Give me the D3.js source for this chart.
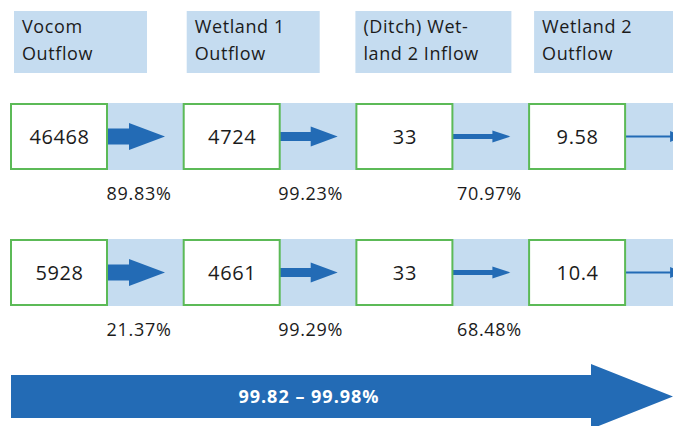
<!DOCTYPE html>
<html>
<head>
<meta charset="utf-8">
<script src="https://cdn.jsdelivr.net/npm/d3@7"></script>
<style>
  body { margin: 0; background: #fff; }
  text { font-family: "Open Sans", sans-serif; fill: #1b1b1b; }
</style>
</head>
<body>
<div id="chart"></div>
<script>
"use strict"

// stages across the top
const stages = ["Vocom Outflow", "Wetland 1 Outflow", "(Ditch) Wetland 2 Inflow", "Wetland 2 Outflow"];
const stageLines = [["Vocom", "Outflow"], ["Wetland 1", "Outflow"], ["(Ditch) Wet-", "land 2 Inflow"], ["Wetland 2", "Outflow"]];

// two sampling rows: concentrations and removal between stages
const rowNames = ["row1", "row2"];
const row1Values = [46468, 4724, 33, 9.58];
const row2Values = [5928, 4661, 33, 10.4];
const row1Removal = [89.83, 99.23, 70.97];
const row2Removal = [21.37, 99.29, 68.48];

// overall removal range
const overallRange = [99.82, 99.98];

const rows = [
  {name: rowNames[0], values: row1Values, removal: row1Removal},
  {name: rowNames[1], values: row2Values, removal: row2Removal}
];

const W = 673, H = 426;
const boxW = 97, boxH = 65, bandH = 67;
const blue = "#236bb5", light = "#c5dcf0", green = "#5cba57";

const svg = d3.select("#chart").append("svg")
  .attr("width", W).attr("height", H);

const x = d3.scaleLinear().domain([0, stages.length]).range([10, 10 + 172.7 * stages.length]);
const y = d3.scalePoint().domain(rowNames).range([136.5, 272.5]);

// arrow styling per stage (decreasing flow arrows)
const shaft = d3.scaleOrdinal().domain(d3.range(4)).range([16, 9, 5, 2]);
const headH = d3.scaleOrdinal().domain(d3.range(4)).range([27, 20, 12, 11]);
const headL = d3.scaleOrdinal().domain(d3.range(4)).range([36, 27, 18, 13]);
const pctShift = [32, 31, 37];
const arrowLen = 58;

// Header boxes
const hdrOffset = [4, 4, 0, 6];
const hdrWidth = [133, 133, 156, 160];
const hdr = svg.selectAll("g.hdr")
  .data(stages)
  .enter().append("g")
    .attr("class", "hdr")
    .attr("transform", (d, i) => `translate(${x(i) + hdrOffset[i]},11)`);

hdr.append("rect")
  .attr("width", (d, i) => hdrWidth[i])
  .attr("height", 62)
  .attr("fill", light);

hdr.append("text")
  .attr("x", 8)
  .attr("y", 22)
  .style("font-size", "18px")
  .style("letter-spacing", "0.6px")
  .selectAll("tspan")
  .data((d, i) => stageLines[i])
  .enter().append("tspan")
    .attr("x", 8)
    .attr("dy", (d, j) => j === 0 ? 0 : 27)
    .text(d => d);

// Rows
const arrowPath = (x0, cy, i) => {
  const s = shaft(i) / 2, h = headH(i) / 2, L = arrowLen, hl = headL(i);
  return `M${x0},${cy - s}H${x0 + L - hl}V${cy - h}L${x0 + L},${cy}L${x0 + L - hl},${cy + h}V${cy + s}H${x0}Z`;
};

const fmtPct = d3.format(".2f");

rows.forEach(row => {
  const cy = y(row.name);
  const g = svg.append("g");

  g.append("rect")
    .attr("x", x(0))
    .attr("y", cy - bandH / 2)
    .attr("width", W - x(0))
    .attr("height", bandH)
    .attr("fill", light);

  g.selectAll("path.arrow")
    .data(row.values)
    .enter().append("path")
      .attr("class", "arrow")
      .attr("d", (d, i) => arrowPath(x(i) + boxW, cy, i))
      .attr("fill", blue);

  g.selectAll("rect.box")
    .data(row.values)
    .enter().append("rect")
      .attr("class", "box")
      .attr("x", (d, i) => x(i) + 1)
      .attr("y", cy - boxH / 2)
      .attr("width", boxW - 1)
      .attr("height", boxH)
      .attr("fill", "#fff")
      .attr("stroke", green)
      .attr("stroke-width", 2);

  g.selectAll("text.val")
    .data(row.values)
    .enter().append("text")
      .attr("class", "val")
      .attr("x", (d, i) => x(i) + boxW / 2 + 1)
      .attr("y", cy)
      .attr("dy", "0.36em")
      .attr("text-anchor", "middle")
      .style("font-size", "20px")
      .style("letter-spacing", "0.6px")
      .text(d => d);

  g.selectAll("text.pct")
    .data(row.removal)
    .enter().append("text")
      .attr("class", "pct")
      .attr("x", (d, i) => x(i) + boxW + pctShift[i])
      .attr("y", cy + 57)
      .attr("dy", "0.36em")
      .attr("text-anchor", "middle")
      .style("font-size", "18px")
      .style("letter-spacing", "0.7px")
      .text(d => fmtPct(d) + "%");
});

// Overall arrow
const by = 396.5;
svg.append("path")
  .attr("d", `M11,${by - 21.5}H591V364L673,${by}L591,429V${by + 21.5}H11Z`)
  .attr("fill", blue);

svg.append("text")
  .attr("x", 309)
  .attr("y", by)
  .attr("dy", "0.36em")
  .attr("text-anchor", "middle")
  .style("font-size", "18px")
  .style("font-weight", "bold")
  .style("letter-spacing", "1px")
  .style("fill", "#fff")
  .text(`${overallRange[0]} – ${overallRange[1]}%`);
</script>
</body>
</html>
